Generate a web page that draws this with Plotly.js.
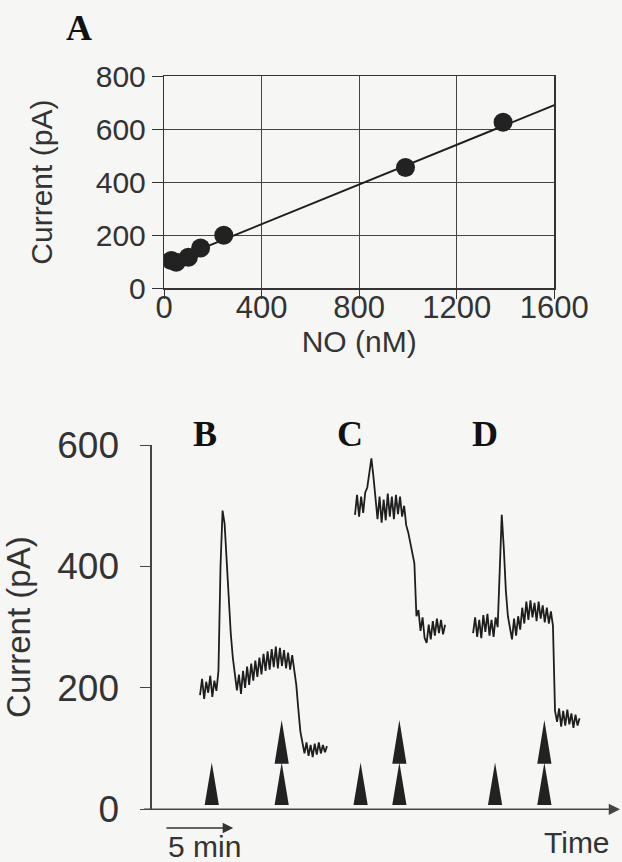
<!DOCTYPE html>
<html><head><meta charset="utf-8">
<script src="https://cdn.plot.ly/plotly-3.0.1.min.js"></script>
<style>html,body{margin:0;padding:0;background:#f6f6f4;} #chart{width:622px;height:862px;}</style>
</head><body><div id="chart"></div>
<script>
// ---- Panel A: calibration ----
const noConc = [30, 50, 100, 150, 245, 990, 1390];
const noCurrent = [105, 98, 117, 152, 200, 455, 626];
const fitX = [0, 1600];
const fitY = [92, 690];
const aXTicks = [0, 400, 800, 1200, 1600];
const aYTicks = [0, 200, 400, 600, 800];

// ---- Panels B-D: recordings (minutes, pA), one sample every 0.15 min ----
const sampleStep = 0.15;
const traceBStart = 3.54;
const traceB = [188,215,182,210,192,220,185,212,195,228,400,492,470,405,335,290,250,222,196,222,
  190,228,200,235,205,240,212,245,218,250,222,256,228,260,230,264,234,268,232,266,
  236,262,232,258,230,254,228,205,165,128,110,92,110,88,106,86,108,90,110,92,106,94,104];
const traceCStart = 14.89;
const traceC = [485,518,482,515,488,522,530,558,578,548,515,478,515,472,510,476,520,482,515,478,
  518,486,515,482,500,468,456,440,426,405,318,328,294,316,282,274,304,280,310,286,
  314,290,312,288,304];
const traceDStart = 23.54;
const traceD = [290,316,284,312,282,320,292,322,286,312,284,316,300,380,485,430,360,318,296,280,
  314,286,318,296,332,306,342,312,344,316,340,310,342,314,336,308,332,306,326,302,
  162,144,166,136,162,138,164,140,158,134,156,138,150];
const singleEvents = [4.40, 15.30, 25.15];
const doubleEvents = [9.52, 18.14, 28.76];
const bYTicks = [0, 200, 400, 600];
const panelLetters = ['A', 'B', 'C', 'D'];

const FONT = 'Liberation Sans, Arial, Helvetica, sans-serif';
const SERIF = 'Liberation Serif, Times New Roman, serif';
const INK = '#1e1e1e';
const TXT = '#333333';

// triangle marker style (data units of panel B axes)
const triHalf = 0.52, triBase = 7, triMid = 77, triTop = 147;
const timeMax = 34.3;

const traces = [
  {x: fitX, y: fitY, mode: 'lines', line: {color: INK, width: 2}, xaxis: 'x', yaxis: 'y', hoverinfo: 'skip'},
  {x: noConc, y: noCurrent, mode: 'markers', marker: {color: '#222', size: 19}, xaxis: 'x', yaxis: 'y'},
  {y: traceB, x0: traceBStart, dx: sampleStep, mode: 'lines', line: {color: INK, width: 1.8}, xaxis: 'x2', yaxis: 'y2'},
  {y: traceC, x0: traceCStart, dx: sampleStep, mode: 'lines', line: {color: INK, width: 1.8}, xaxis: 'x2', yaxis: 'y2'},
  {y: traceD, x0: traceDStart, dx: sampleStep, mode: 'lines', line: {color: INK, width: 1.8}, xaxis: 'x2', yaxis: 'y2'}
];

function tri(t, y0, y1) {
  return {type: 'path', xref: 'x2', yref: 'y2', fillcolor: '#222', line: {width: 0},
    path: 'M' + (t - triHalf) + ',' + y0 + ' L' + t + ',' + y1 + ' L' + (t + triHalf) + ',' + y0 + ' Z'};
}
const shapes = [];
singleEvents.forEach(t => shapes.push(tri(t, triBase, triMid)));
doubleEvents.forEach(t => { shapes.push(tri(t, triBase, triMid)); shapes.push(tri(t, triMid - 2, triTop)); });

const letterPos = [[0.127, 0.968], [0.3296, 0.496], [0.5627, 0.496], [0.779, 0.496]];
const annotations = panelLetters.map((L, i) => ({
  text: '<b>' + L + '</b>', xref: 'paper', yref: 'paper', x: letterPos[i][0], y: letterPos[i][1],
  xanchor: 'center', yanchor: 'middle', showarrow: false, font: {family: SERIF, size: 36, color: '#111'}
}));
const axisY = (862 - 809.3) / 862;
// time axis with arrow
annotations.push({xref: 'x2', yref: 'paper', axref: 'x2', ayref: 'pixel', x: timeMax, y: axisY, ax: -0.68, ay: 0,
  text: '', showarrow: true, arrowhead: 2, arrowsize: 1.5, arrowwidth: 1.5, arrowcolor: '#444', standoff: 0, startstandoff: 0});
// 5 min scale bar
annotations.push({xref: 'x2', yref: 'paper', axref: 'x2', ayref: 'pixel', x: 5.97, y: (862 - 828) / 862, ax: 0.97, ay: 0,
  text: '', showarrow: true, arrowhead: 2, arrowsize: 1.4, arrowwidth: 1.5, arrowcolor: '#333', standoff: 0, startstandoff: 0});
annotations.push({xref: 'x2', yref: 'paper', x: 3.87, y: (862 - 846) / 862, text: '5 min', showarrow: false,
  xanchor: 'center', yanchor: 'middle', font: {family: FONT, size: 30, color: TXT}});
annotations.push({xref: 'x2', yref: 'paper', x: 33.7, y: (862 - 842) / 862, text: 'Time', showarrow: false,
  xanchor: 'right', yanchor: 'middle', font: {family: FONT, size: 30, color: TXT}});

const layout = {
  width: 622, height: 862,
  margin: {l: 0, r: 0, t: 0, b: 0},
  paper_bgcolor: '#f6f6f4', plot_bgcolor: '#f6f6f4',
  showlegend: false,
  font: {family: FONT, color: TXT},
  xaxis: {domain: [164 / 622, 554.3 / 622], anchor: 'y', range: [0, 1600], tickvals: aXTicks,
    ticks: 'outside', ticklen: 9, tickcolor: '#333', showgrid: true, gridcolor: '#444', gridwidth: 1.1,
    showline: true, linecolor: '#333', linewidth: 1.2, mirror: true, zeroline: false, ticklabelstandoff: -18,
    tickfont: {size: 31, color: TXT}, title: {text: 'NO (nM)', font: {size: 30, color: TXT}, standoff: 0}},
  yaxis: {domain: [(862 - 288.3) / 862, (862 - 76) / 862], anchor: 'x', range: [0, 800], tickvals: aYTicks,
    ticks: 'outside', ticklen: 11, tickcolor: '#333', showgrid: true, gridcolor: '#444', gridwidth: 1.1,
    showline: true, linecolor: '#333', linewidth: 1.2, mirror: true, zeroline: false,
    tickfont: {size: 30, color: TXT}, title: {text: 'Current (pA)', font: {size: 30, color: TXT}, standoff: 34}},
  xaxis2: {domain: [151.7 / 622, 620 / 622], anchor: 'y2', range: [0, timeMax], visible: false},
  yaxis2: {domain: [axisY, (862 - 445) / 862], anchor: 'x2', range: [0, 600], tickvals: bYTicks,
    ticks: 'outside', ticklen: 10, tickcolor: '#444', showgrid: false, zeroline: false,
    showline: true, linecolor: '#444', linewidth: 1.3, ticklabelstandoff: 14,
    tickfont: {size: 37, color: TXT}, title: {text: 'Current (pA)', font: {size: 33, color: TXT}, standoff: 20}},
  shapes: shapes,
  annotations: annotations
};

Plotly.newPlot('chart', traces, layout, {staticPlot: true, displayModeBar: false});
</script></body></html>
